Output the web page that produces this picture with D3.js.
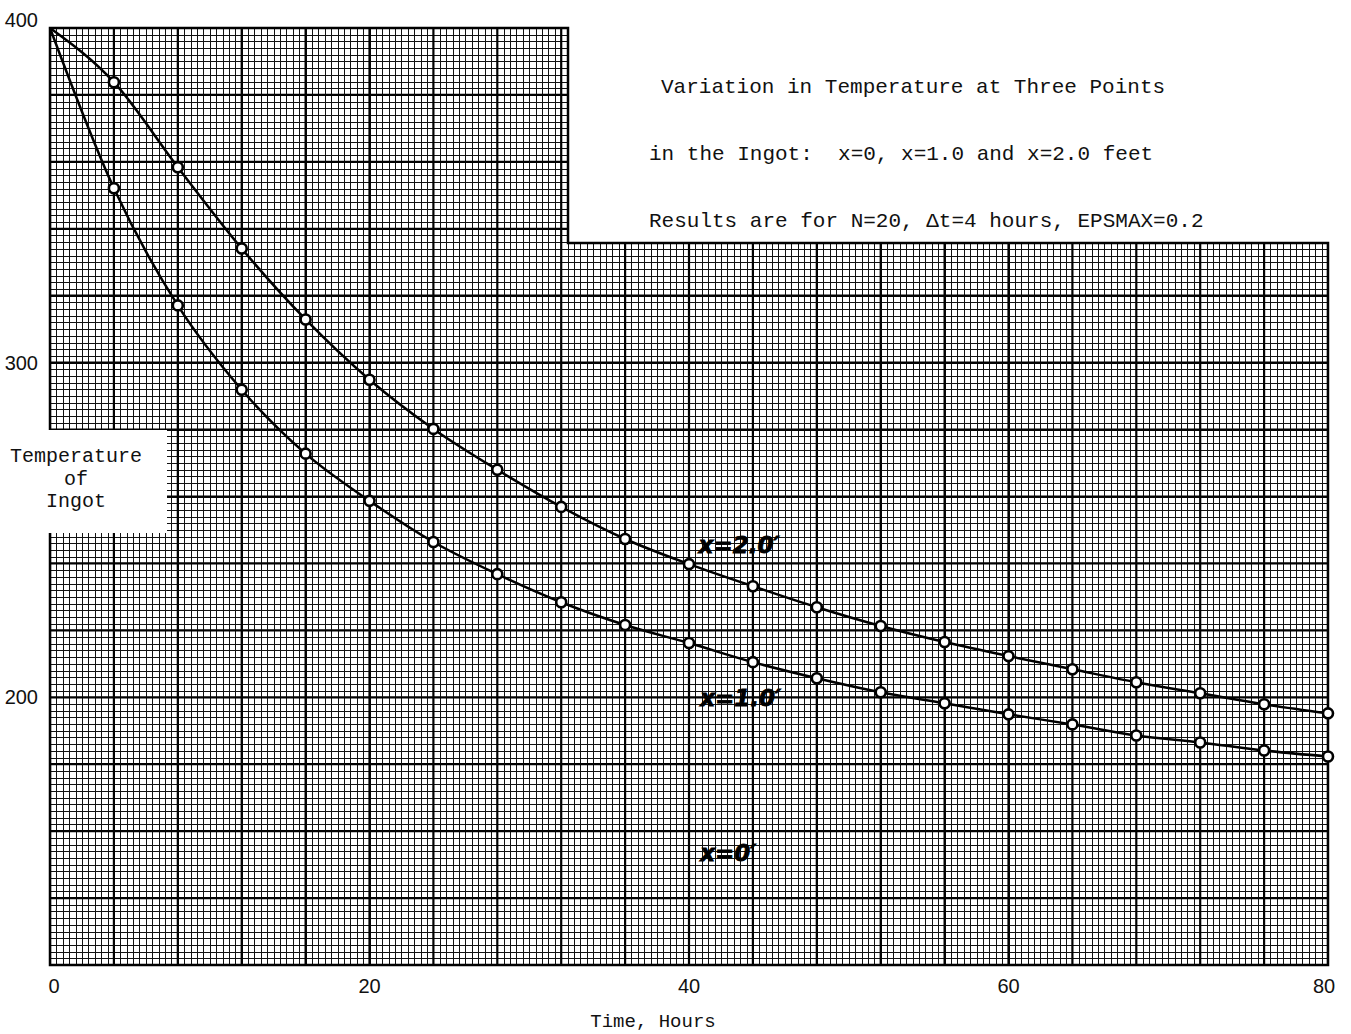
<!DOCTYPE html>
<html>
<head>
<meta charset="utf-8">
<script src="https://cdn.jsdelivr.net/npm/d3@7"></script>
<style>
  body { margin: 0; background: #fff; }
  svg { display: block; }
</style>
</head>
<body>
<div id="chart"></div>
<script>
// Time in hours (every 4 h, dt = 4)
const hours = [0, 4, 8, 12, 16, 20, 24, 28, 32, 36, 40, 44, 48, 52, 56, 60, 64, 68, 72, 76, 80];

// Temperature at x = 2.0 ft (upper curve)
const tempX2 = [400, 383.8, 358.4, 334.1, 312.9, 294.9, 280.2, 268.0, 256.9, 247.3, 239.8,
                233.2, 226.9, 221.3, 216.5, 212.3, 208.4, 204.5, 201.2, 197.9, 195.2];

// Temperature at x = 1.0 ft (lower curve)
const tempX1 = [400, 352.1, 317.1, 291.9, 272.8, 258.7, 246.4, 236.8, 228.4, 221.6, 216.2,
                210.5, 205.7, 201.5, 198.2, 194.9, 191.9, 188.6, 186.5, 184.1, 182.3];

const xTicks = [0, 20, 40, 60, 80];
const yTicks = [200, 300, 400];

const titleLines = [
  "Variation in Temperature at Three Points",
  "in the Ingot:  x=0, x=1.0 and x=2.0 feet",
  "Results are for N=20, \u0394t=4 hours, EPSMAX=0.2"
];
const curveLabels = [
  { text: "x=2.0\u2032", t: 40.6, v: 243 },
  { text: "x=1.0\u2032", t: 40.7, v: 197.5 },
  { text: "x=0\u2032", t: 40.7, v: 151 }
];

const W = 1351, H = 1034;
const x = d3.scaleLinear().domain([0, 80]).range([50, 1328]);
const y = d3.scaleLinear().domain([120, 400]).range([965, 28]);

const svg = d3.select("#chart").append("svg")
  .attr("width", W).attr("height", H);

// graph paper outline: top-right corner cut away for the title
const cutX = 568, cutY = 243;
const paper = [[x(0), y(400)], [cutX, y(400)], [cutX, cutY], [x(80), cutY],
               [x(80), y(120)], [x(0), y(120)]];

svg.append("clipPath").attr("id", "paper")
  .append("path").attr("d", "M" + paper.join("L") + "Z");

const grid = svg.append("g").attr("clip-path", "url(#paper)");

// minor grid
const minorV = d3.range(0, 80.01, 0.4);
const minorH = d3.range(120, 400.01, 2);
grid.selectAll(".mv").data(minorV).join("line")
  .attr("x1", d => Math.round(x(d)) + 0.5).attr("x2", d => Math.round(x(d)) + 0.5)
  .attr("y1", 0).attr("y2", H)
  .attr("stroke", "#111").attr("stroke-width", 1);
grid.selectAll(".mh").data(minorH).join("line")
  .attr("y1", d => Math.round(y(d)) + 0.5).attr("y2", d => Math.round(y(d)) + 0.5)
  .attr("x1", 0).attr("x2", W)
  .attr("stroke", "#111").attr("stroke-width", 1);

// major grid
const majorV = d3.range(0, 80.01, 4);
const majorH = d3.range(120, 400.01, 20);
grid.selectAll(".Mv").data(majorV).join("line")
  .attr("x1", d => x(d)).attr("x2", d => x(d))
  .attr("y1", 0).attr("y2", H)
  .attr("stroke", "#000").attr("stroke-width", 2.2);
grid.selectAll(".Mh").data(majorH).join("line")
  .attr("y1", d => y(d)).attr("y2", d => y(d))
  .attr("x1", 0).attr("x2", W)
  .attr("stroke", "#000").attr("stroke-width", 2.2);

// paper border
svg.append("path").attr("d", "M" + paper.join("L") + "Z")
  .attr("fill", "none").attr("stroke", "#000").attr("stroke-width", 2.5);

// white patch behind the y label
svg.append("rect").attr("x", 0).attr("y", 430).attr("width", 167).attr("height", 103)
  .attr("fill", "#fff");

const mono = "'Liberation Mono', 'DejaVu Sans Mono', monospace";
const sans = "'Liberation Sans', 'DejaVu Sans', sans-serif";

// curves
const line = d3.line().x(d => x(d[0])).y(d => y(d[1])).curve(d3.curveMonotoneX);
[tempX2, tempX1].forEach(vals => {
  const pts = hours.map((h, i) => [h, vals[i]]);
  svg.append("path").datum(pts)
    .attr("fill", "none").attr("stroke", "#000").attr("stroke-width", 2.5)
    .attr("d", line);
  svg.append("g").selectAll("circle").data(pts.slice(1)).join("circle")
    .attr("cx", d => x(d[0])).attr("cy", d => y(d[1])).attr("r", 5)
    .attr("fill", "#fff").attr("stroke", "#000").attr("stroke-width", 2.6);
});

// curve labels (hand lettered)
svg.append("g").selectAll("text").data(curveLabels).join("text")
  .attr("x", d => x(d.t)).attr("y", d => y(d.v))
  .attr("font-family", "'DejaVu Sans', sans-serif").attr("font-style", "italic")
  .attr("font-weight", "bold").attr("font-size", 23)
  .attr("fill", "#000").attr("stroke", "#000").attr("stroke-width", 0.8)
  .text(d => d.text);

// tick labels
svg.append("g").selectAll("text").data(xTicks).join("text")
  .attr("x", d => x(d) + (d === 0 ? 4 : d === 80 ? -4 : 0)).attr("y", 993)
  .attr("text-anchor", "middle")
  .attr("font-family", sans).attr("font-size", 20).attr("fill", "#111")
  .text(d => d);
svg.append("g").selectAll("text").data(yTicks).join("text")
  .attr("x", 38).attr("y", d => y(d) + (d === 400 ? -1 : 7))
  .attr("text-anchor", "end")
  .attr("font-family", sans).attr("font-size", 20).attr("fill", "#111")
  .text(d => d);

// axis titles
svg.append("text").attr("x", 653).attr("y", 1027).attr("text-anchor", "middle")
  .attr("font-family", mono).attr("font-size", 19).attr("fill", "#111")
  .text("Time, Hours");
const yl = svg.append("text").attr("text-anchor", "middle")
  .attr("font-family", mono).attr("font-size", 20).attr("fill", "#111");
["Temperature", "of", "Ingot"].forEach((s, i) => {
  yl.append("tspan").attr("x", 76).attr("y", 462 + i * 22.5).text(s);
});

// title block
svg.append("g").selectAll("text").data(titleLines).join("text")
  .attr("x", (d, i) => i === 0 ? 661 : 649)
  .attr("y", (d, i) => 93 + i * 67)
  .attr("font-family", mono).attr("font-size", 21).attr("fill", "#111")
  .attr("xml:space", "preserve").style("white-space", "pre")
  .text(d => d);
</script>
</body>
</html>
